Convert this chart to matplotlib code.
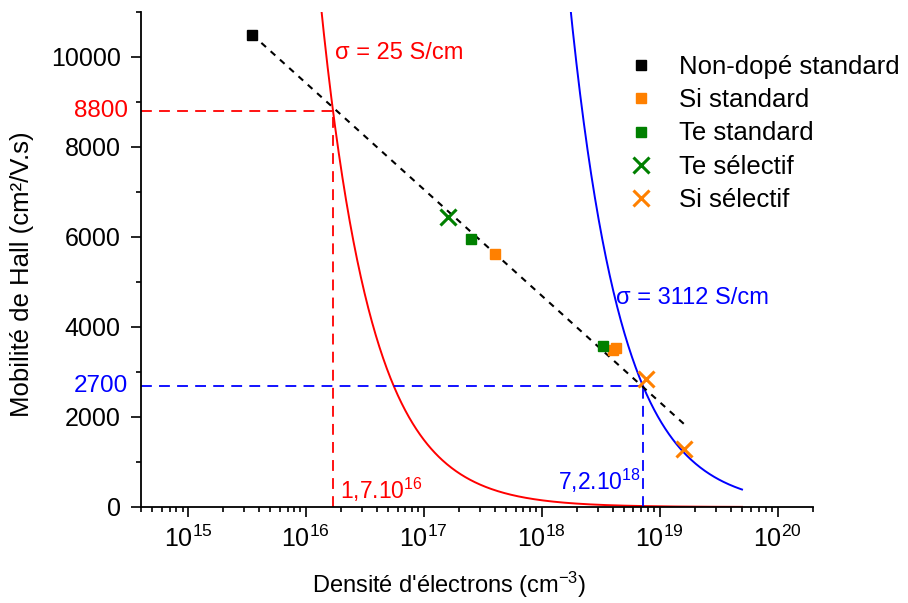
import numpy as np
import matplotlib
matplotlib.use("Agg")
import matplotlib.pyplot as plt
from matplotlib.ticker import LogLocator, MultipleLocator, NullFormatter

plt.rcParams['font.family'] = ['Liberation Sans', 'DejaVu Sans']
plt.rcParams['mathtext.default'] = 'regular'

# ---------------- data ----------------
nd_n = [3.5e15]
nd_mu = [10500]
si_std_n = [4.0e17, 4.0e18, 4.3e18]
si_std_mu = [5620, 3480, 3530]
te_std_n = [2.5e17, 3.3e18]
te_std_mu = [5950, 3580]
te_sel_n = [1.6e17]
te_sel_mu = [6450]
si_sel_n = [7.6e18, 1.6e19]
si_sel_mu = [2840, 1290]

fit_n = [3.5e15, 1.65e19]
fit_mu = [10500, 1820]

# iso-conductivity curves: sigma labels and crossing points
sigma_labels = ["25", "3112"]
cross_n = [1.7e16, 7.2e18]
cross_mu = [8800, 2700]
cross_n_labels = ["1,7.10$^{16}$", "7,2.10$^{18}$"]
cross_mu_labels = ["8800", "2700"]
curve_n_range = [1e15, 5e19]

legend_labels = ["Non-dopé standard", "Si standard", "Te standard", "Te sélectif", "Si sélectif"]

RED = '#FF0000'
BLUE = '#0000FF'
GREEN = '#008000'
ORANGE = '#FF8000'

fig = plt.figure(figsize=(9.08, 6.03), dpi=100)
ax = fig.add_axes([141/908, 1-507/603, (813-141)/908, (507-12)/603])

n = np.logspace(np.log10(curve_n_range[0]), np.log10(curve_n_range[1]), 600)
for (cn, cm, col) in zip(cross_n, cross_mu, [RED, BLUE]):
    ax.plot(n, cm*cn/n, color=col, lw=1.4, zorder=2)

xmin, xmax = 4e14, 2e20
for (cn, cm, col) in zip(cross_n, cross_mu, [RED, BLUE]):
    ax.plot([xmin, cn], [cm, cm], color=col, lw=1.3, ls=(0, (6, 4)), zorder=2)
    ax.plot([cn, cn], [0, cm], color=col, lw=1.3, ls=(0, (6, 4)), zorder=2)

ax.plot(fit_n, fit_mu, color='black', lw=1.5, ls=(0, (3, 3)), zorder=3)

h1, = ax.plot(nd_n, nd_mu, 's', color='black', ms=7.5, ls='none', zorder=5)
h2, = ax.plot(si_std_n, si_std_mu, 's', color=ORANGE, ms=7.5, ls='none', zorder=5)
h3, = ax.plot(te_std_n, te_std_mu, 's', color=GREEN, ms=7.5, ls='none', zorder=5)
h4, = ax.plot(te_sel_n, te_sel_mu, 'x', color=GREEN, ms=11, mew=2.2, ls='none', zorder=5)
h5, = ax.plot(si_sel_n, si_sel_mu, 'x', color=ORANGE, ms=11, mew=2.2, ls='none', zorder=5)

ax.set_xscale('log')
ax.set_xlim(xmin, xmax)
ax.set_ylim(0, 11000)

ax.spines['top'].set_visible(False)
ax.spines['right'].set_visible(False)
for s in ['left', 'bottom']:
    ax.spines[s].set_linewidth(1.3)

ax.xaxis.set_major_locator(LogLocator(base=10, numticks=20))
ax.xaxis.set_minor_locator(LogLocator(base=10, subs=np.arange(2, 10), numticks=20))
ax.xaxis.set_minor_formatter(NullFormatter())
ax.yaxis.set_major_locator(MultipleLocator(2000))
ax.yaxis.set_minor_locator(MultipleLocator(1000))
ax.tick_params(which='major', direction='out', length=7.5, width=1.2, labelsize=18)
ax.tick_params(which='minor', direction='out', length=3.8, width=1.2)
ax.tick_params(axis='x', which='major', pad=6)
ax.tick_params(axis='y', which='major', pad=7)

ax.set_xlabel("Densité d'électrons (cm$^{-3}$)", fontsize=17)
ax.xaxis.set_label_coords((449-141)/672, -(585-507)/495, transform=ax.transAxes)
ax.xaxis.label.set_va('center')
ax.set_ylabel("Mobilité de Hall (cm²/V.s)", fontsize=18.5)
ax.yaxis.set_label_coords(-(141-22)/672, (507-274)/495, transform=ax.transAxes)
ax.yaxis.label.set_va('center')

# annotations
ytr = ax.get_yaxis_transform()
for cm, lab, col in zip(cross_mu, cross_mu_labels, [RED, BLUE]):
    ax.text(-0.02, cm, lab, transform=ytr, ha='right', va='center', color=col, fontsize=17.5)

ax.text(1.77e16, 10090, "σ = " + sigma_labels[0] + " S/cm", color=RED, fontsize=17, ha='left', va='center')
ax.text(4.3e18, 4640, "σ = " + sigma_labels[1] + " S/cm", color=BLUE, fontsize=17, ha='left', va='center')
ax.text(1.95e16, 178, cross_n_labels[0], color=RED, fontsize=16.5, ha='left', va='baseline')
ax.text(6.9e18, 378, cross_n_labels[1], color=BLUE, fontsize=16.5, ha='right', va='baseline')

leg = ax.legend([h1, h2, h3, h4, h5], legend_labels,
                loc='upper left', bbox_to_anchor=(628/908, 1-55/603), bbox_transform=fig.transFigure,
                frameon=False, fontsize=18.5, handlelength=1.0, handletextpad=0.98,
                labelspacing=0.36, borderpad=0, borderaxespad=0)

fig.savefig('out.png', dpi=100)
